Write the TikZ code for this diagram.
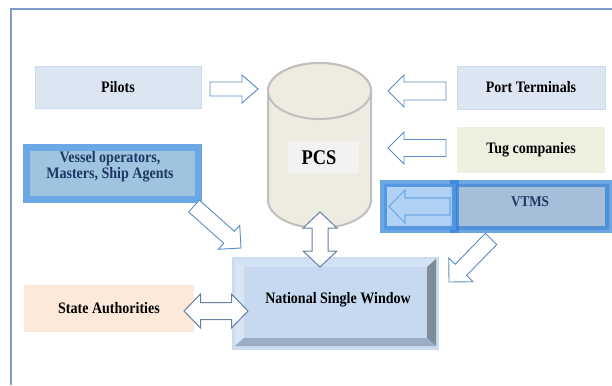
\documentclass[tikz,border=0pt]{standalone}
\usepackage{fontspec}
\setmainfont[FakeStretch=0.88]{Liberation Serif}
\usetikzlibrary{calc}
\definecolor{frameC}{HTML}{7F9DC6}
\definecolor{lightbox}{HTML}{DCE6F2}
\definecolor{lightboxD}{HTML}{CBDCF0}
\definecolor{tugC}{HTML}{EBF1DE}
\definecolor{stateC}{HTML}{FDE9D9}
\definecolor{cylF}{HTML}{EEECE1}
\definecolor{cylD}{HTML}{BFBFBF}
\definecolor{pcsboxC}{HTML}{F2F2F2}
\definecolor{vesF}{HTML}{9FC4E0}
\definecolor{vesD}{HTML}{6CA8E6}
\definecolor{vtLF}{HTML}{A9CDF3}
\definecolor{vtRF}{HTML}{A5BED9}
\definecolor{vtD}{HTML}{2E7FD8}
\definecolor{navy}{HTML}{1F3763}
\definecolor{nswGlow}{HTML}{CADBF2}
\definecolor{nswFace}{HTML}{C6D9F1}
\definecolor{nswTop}{HTML}{D3E1F4}
\definecolor{nswLeft}{HTML}{D9E5F5}
\definecolor{nswRight}{HTML}{7F8B9A}
\definecolor{nswBot}{HTML}{9CACC4}
\definecolor{arrS}{HTML}{5B8BC9}
\definecolor{arrD}{HTML}{66809F}
\definecolor{arrV}{HTML}{6FA9EA}
\newcommand{\blockarr}[6]{%
  \path ($(#3)!#6!(#2)$) coordinate (#3-base);
  \draw[#1] ($(#2)!#4!90:(#3)$) -- ($(#3-base)!#4!90:(#3)$) -- ($(#3-base)!#5!90:(#3)$) -- (#3)
    -- ($(#3-base)!#5!-90:(#3)$) -- ($(#3-base)!#4!-90:(#3)$) -- ($(#2)!#4!-90:(#3)$) -- cycle;}
\newcommand{\dblarr}[6]{%
  \path ($(#2)!#6!(#3)$) coordinate (#2-base) ($(#3)!#6!(#2)$) coordinate (#3-base);
  \draw[#1] (#2) -- ($(#2-base)!#5!90:(#3)$) -- ($(#2-base)!#4!90:(#3)$) -- ($(#3-base)!#4!90:(#3)$)
    -- ($(#3-base)!#5!90:(#3)$) -- (#3) -- ($(#3-base)!#5!-90:(#3)$) -- ($(#3-base)!#4!-90:(#3)$)
    -- ($(#2-base)!#4!-90:(#3)$) -- ($(#2-base)!#5!-90:(#3)$) -- cycle;}
\tikzset{
  txt/.style={font=\bfseries\fontsize{16}{16}\selectfont, inner sep=0pt, align=center},
  plainbox/.style={rectangle, inner sep=0pt, txt},
  sarrow/.style={draw=arrS, fill=white, line width=0.9bp, line join=miter},
  darrow/.style={draw=arrD, fill=white, line width=1bp, line join=miter},
}
\begin{document}
\begin{tikzpicture}[x=1bp, y=-1bp]
\useasboundingbox (0,0) rectangle (612,385);
% frame
\draw[frameC, line width=1.5bp] (11,385) -- (11,9) -- (613,9);

% boxes
\node[plainbox, fill=lightbox, draw=lightboxD, line width=0.6bp, minimum width=166bp, minimum height=42bp] (pilots) at (118,87) {Pilots};
\node[plainbox, fill=lightbox, draw=lightboxD, line width=0.6bp, minimum width=148bp, minimum height=43bp] (port) at (531,87.5) {Port Terminals};
\node[plainbox, fill=tugC, minimum width=148bp, minimum height=46bp] (tug) at (531,150) {Tug companies};
\node[plainbox, fill=stateC, minimum width=170bp, minimum height=47bp] (state) at (109,308.5) {State Authorities};

% vessel box
\node[rectangle, inner sep=0pt, fill=vesF, draw=vesD, line width=7bp, minimum width=172bp, minimum height=52bp] (vessel) at (112.5,173.5) {};
\node[txt, text=navy] (vesseltxt) at (110,166.5) {Vessel operators,\\Masters, Ship Agents};

% VTMS boxes
\node[rectangle, inner sep=0pt, fill=vtRF, draw=vtD, draw opacity=0.7, line width=7bp, minimum width=155bp, minimum height=46bp] (vtms) at (531,206.5) {};
\node[rectangle, inner sep=0pt, fill=vtLF, fill opacity=0.9, draw=vtD, draw opacity=0.7, line width=7bp, minimum width=72bp, minimum height=46bp] (vtmsleft) at (419.5,206.5) {};
\node[txt, text=navy, font=\bfseries\fontsize{15}{15}\selectfont] (vtmstxt) at (530,202) {VTMS};

% PCS cylinder
\coordinate (pcscyl) at (319.5,145);
\draw[fill=cylF, draw=cylD, line width=2bp] (268,91) -- (268,200)
  arc[start angle=180, end angle=0, x radius=51.5, y radius=28] -- (371,91)
  arc[start angle=0, end angle=-180, x radius=51.5, y radius=28] -- cycle;
\draw[fill=cylF, draw=cylD, line width=2bp] (319.5,91) ellipse[x radius=51.5, y radius=28];
\node[rectangle, inner sep=0pt, fill=pcsboxC, minimum width=71bp, minimum height=32bp] (pcsbox) at (323.5,157) {};
\node[txt, font=\bfseries\fontsize{21}{21}\selectfont] (pcs) at (319,158) {PCS};

% National Single Window
\node[rectangle, inner sep=0pt, fill=nswGlow, minimum width=207bp, minimum height=93bp] (nsw) at (335.5,303) {};
\fill[nswTop] (235,259) -- (436,259) -- (427,267) -- (244,267) -- cycle;
\fill[nswLeft] (235,259) -- (244,267) -- (244,338) -- (235,346) -- cycle;
\fill[nswRight] (436,259) -- (436,346) -- (427,338) -- (427,267) -- cycle;
\fill[nswBot] (235,346) -- (436,346) -- (427,338) -- (244,338) -- cycle;
\fill[nswFace] (244,267) rectangle (427,338);
\node[txt] (nswtxt) at (338,300) {National Single Window};

% arrow end points
\coordinate (pilT) at (210,89);   \coordinate (pilH) at (258,89);
\coordinate (portT) at (446,91);  \coordinate (portH) at (388,91);
\coordinate (tugT) at (446,148);  \coordinate (tugH) at (388,148);
\coordinate (vtT) at (450,206.5); \coordinate (vtH) at (389,206.5);
\coordinate (vesT) at (194,206);  \coordinate (vesH) at (241,248);
\coordinate (vtdT) at (491,239);  \coordinate (vtdH) at (449,282);
\coordinate (pcsA) at (320,212);  \coordinate (nswA) at (320,267);
\coordinate (stA) at (184,311);   \coordinate (nswB) at (248,311);

% arrows
\blockarr{sarrow}{pilT}{pilH}{7bp}{14bp}{16bp}
\blockarr{sarrow}{portT}{portH}{9bp}{16bp}{16bp}
\blockarr{sarrow}{tugT}{tugH}{8.5bp}{16bp}{16bp}
\blockarr{draw=arrV, line width=1.1bp}{vtT}{vtH}{8.5bp}{16.5bp}{16bp}
\blockarr{sarrow}{vesT}{vesH}{8bp}{16bp}{16bp}
\blockarr{sarrow}{vtdT}{vtdH}{8bp}{17bp}{17bp}
\dblarr{darrow}{pcsA}{nswA}{8bp}{17bp}{16bp}
\dblarr{darrow}{stA}{nswB}{8.5bp}{17bp}{16.5bp}
\end{tikzpicture}
\end{document}
